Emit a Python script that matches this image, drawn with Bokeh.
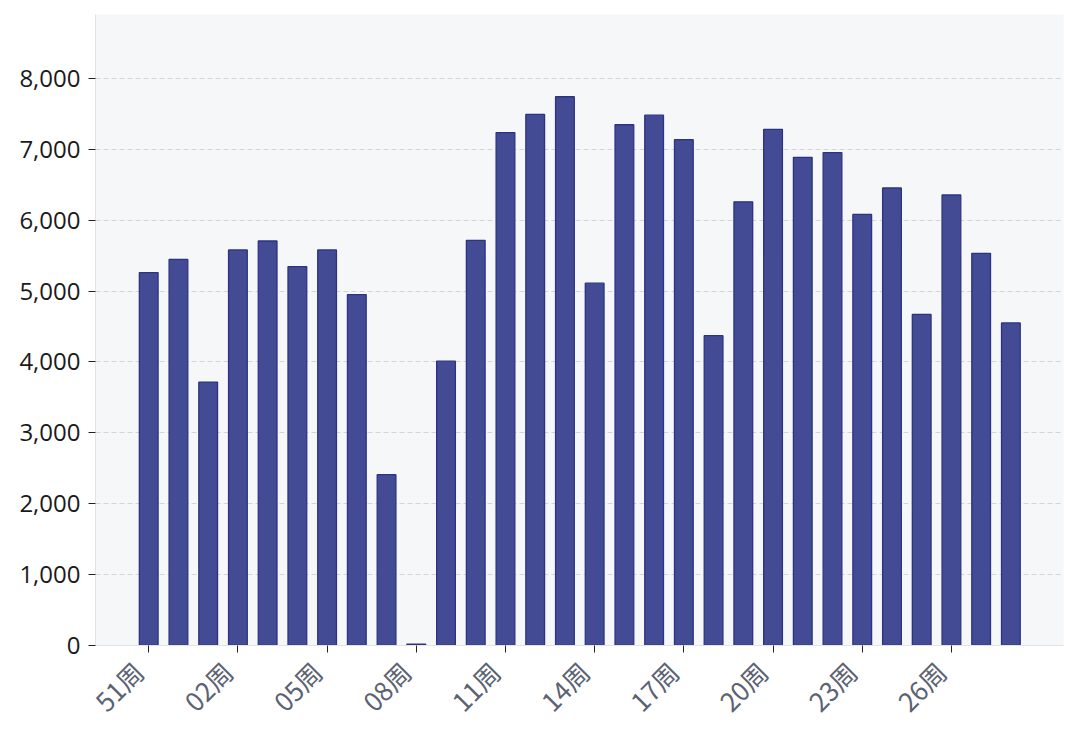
import math
from bokeh.plotting import figure
from bokeh.models import (Range1d, FixedTicker, NumeralTickFormatter,
                          ColumnDataSource, LinearAxis)
from bokeh.embed import file_html
from bokeh.resources import INLINE

weeks = ["51周", "52周", "01周", "02周", "03周", "04周", "05周", "06周", "07周", "08周",
         "09周", "10周", "11周", "12周", "13周", "14周", "15周", "16周", "17周", "18周",
         "19周", "20周", "21周", "22周", "23周", "24周", "25周", "26周", "27周", "28周"]
values = [5260, 5445, 3715, 5580, 5705, 5345, 5580, 4950, 2410, 20,
          4010, 5715, 7235, 7490, 7740, 5110, 7345, 7480, 7135, 4370,
          6258, 7280, 6885, 6952, 6080, 6453, 4670, 6354, 5531, 4550]
y_ticks = [0, 1000, 2000, 3000, 4000, 5000, 6000, 7000, 8000]
x_tick_idx = [0, 3, 6, 9, 12, 15, 18, 21, 24, 27]

idx = list(range(len(weeks)))
src = ColumnDataSource(dict(x=idx, top=values, week=weeks))

x0, x1 = -1.79, 30.77
label_shift = 0.36  # label anchor sits slightly left of its tick

p = figure(frame_width=968, frame_height=631, output_backend="svg",
           toolbar_location=None, x_range=Range1d(x0, x1),
           y_range=Range1d(0, 8900),
           min_border_left=95, min_border_right=12, min_border_top=14,
           min_border_bottom=80)
p.extra_x_ranges = {"labels": Range1d(x0 + label_shift, x1 + label_shift)}

p.vbar(x="x", top="top", width=0.63, source=src,
       fill_color="#434b94", line_color="#2d3384", line_width=1.3)

p.background_fill_color = "#f6f7f9"
p.border_fill_color = "white"
p.outline_line_color = None

p.xgrid.grid_line_color = None
p.ygrid.grid_line_color = "#d3d5d9"
p.ygrid.grid_line_dash = "5 3"
p.ygrid.grid_line_width = 1

p.yaxis.ticker = FixedTicker(ticks=y_ticks)
p.yaxis.formatter = NumeralTickFormatter(format="0,0")
p.yaxis.axis_line_color = "#e2e3e6"
p.yaxis.major_tick_line_color = "#222222"
p.yaxis.major_tick_in = 0
p.yaxis.major_tick_out = 7
p.yaxis.minor_tick_line_color = None
p.yaxis.major_label_text_font = "Open Sans"
p.yaxis.major_label_text_font_size = "24px"
p.yaxis.major_label_text_color = "#1a1a1a"
p.yaxis.major_label_standoff = 8

p.xaxis.ticker = FixedTicker(ticks=x_tick_idx)
p.xaxis.major_label_overrides = {i: "" for i in x_tick_idx}
p.xaxis.major_label_standoff = 0
p.xaxis.axis_line_color = "#e2e3e6"
p.xaxis.major_tick_line_color = "#222222"
p.xaxis.major_tick_in = 0
p.xaxis.major_tick_out = 7
p.xaxis.minor_tick_line_color = None

lab_axis = LinearAxis(x_range_name="labels", ticker=FixedTicker(ticks=x_tick_idx))
lab_axis.major_label_overrides = {i: weeks[i] for i in x_tick_idx}
lab_axis.axis_line_color = None
lab_axis.major_tick_line_color = None
lab_axis.minor_tick_line_color = None
lab_axis.major_tick_in = 0
lab_axis.major_tick_out = 0
lab_axis.major_label_orientation = math.pi / 4
lab_axis.major_label_text_font = "Noto Sans CJK SC"
lab_axis.major_label_text_font_size = "26px"
lab_axis.major_label_text_color = "#5b6272"
lab_axis.major_label_standoff = 14
p.add_layout(lab_axis, "below")

open("out.html", "w").write(file_html(p, INLINE))
